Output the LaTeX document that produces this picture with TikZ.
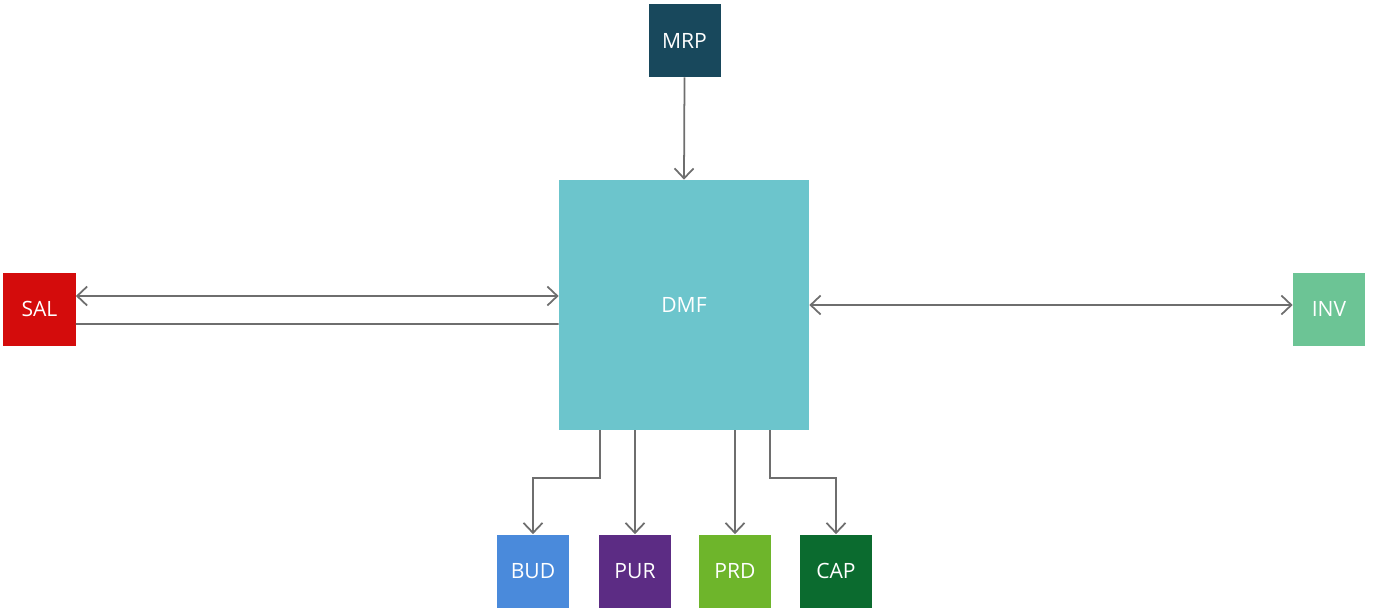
\documentclass[tikz,border=0pt]{standalone}
\usepackage{fontspec}
\setmainfont{Open Sans}
\usepackage{tikz}
\usetikzlibrary{positioning,calc,arrows.meta}
\definecolor{ModRed}{RGB}{212,12,12}
\definecolor{ModNavy}{RGB}{24,72,92}
\definecolor{ModCyan}{RGB}{108,197,204}
\definecolor{ModSea}{RGB}{108,196,149}
\definecolor{ModBlue}{RGB}{74,138,219}
\definecolor{ModPurple}{RGB}{92,44,132}
\definecolor{ModLime}{RGB}{110,181,43}
\definecolor{ModGreen}{RGB}{11,107,47}
\definecolor{LinkGray}{RGB}{110,110,110}

\begin{document}
\begin{tikzpicture}[
    font=\fontsize{12}{14}\selectfont,
    >={Straight Barb[length=2mm,width=3.8mm]},
    module/.style={
        text=white,
        align=center,
        minimum width=1.44cm,
        minimum height=1.46cm,
        inner sep=0pt
    },
    hub/.style={
        module,
        fill=ModCyan,
        minimum width=5.0cm,
        minimum height=5.0cm
    },
    arrow/.style={
        ->,
        line width=1pt,
        draw=LinkGray
    },
    biarrow/.style={
        arrow,
        <->
    },
    link/.style={
        line width=1pt,
        draw=LinkGray
    }
]

\useasboundingbox (0,0) rectangle (27.48,-12.14);

\node[hub] (dmf) at (13.68,-6.10) {DMF};
\node[module, fill=ModNavy] (mrp) at (13.69,-0.81) {MRP};
\node[module, fill=ModRed] (sal) at (0.79,-6.18) {SAL};
\node[module, fill=ModSea] (inv) at (26.58,-6.18) {INV};

\node[module, fill=ModBlue] (bud) at (10.66,-11.42) {BUD};
\node[module, fill=ModPurple] (pur) at (12.70,-11.42) {PUR};
\node[module, fill=ModLime] (prd) at (14.70,-11.42) {PRD};
\node[module, fill=ModGreen] (cap) at (16.72,-11.42) {CAP};

\draw[arrow] (mrp.south) -- (dmf.north);

\draw[biarrow] ([yshift=0.26cm]sal.east) -- ([yshift=0.18cm]dmf.west);
\draw[link] ([yshift=-0.30cm]sal.east) -- ([yshift=-0.38cm]dmf.west);
\draw[biarrow] (dmf.east) -- (dmf.east -| inv.west);

\draw[arrow] ([xshift=-1.68cm]dmf.south) -- ++(0,-0.96) -| (bud.north);
\draw[arrow] (pur.north |- dmf.south) -- (pur.north);
\draw[arrow] (prd.north |- dmf.south) -- (prd.north);
\draw[arrow] ([xshift=1.72cm]dmf.south) -- ++(0,-0.96) -| (cap.north);

\end{tikzpicture}
\end{document}
